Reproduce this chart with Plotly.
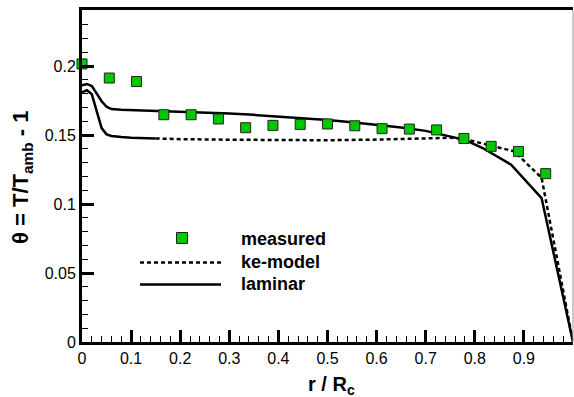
import plotly.graph_objects as go

# ---- data ----
meas_x = [0.0, 0.0556, 0.1111, 0.1667, 0.2222, 0.2778, 0.3333, 0.3889, 0.4444,
          0.5, 0.5556, 0.6111, 0.6667, 0.7222, 0.7778, 0.8333, 0.8889, 0.9444]
meas_y = [0.2015, 0.1913, 0.1888, 0.1647, 0.1647, 0.1616, 0.1553, 0.1570, 0.1577,
          0.1580, 0.1567, 0.1546, 0.1543, 0.1537, 0.1475, 0.1418, 0.1381, 0.1220]

ke_x = [0.0, 0.01, 0.02, 0.03, 0.04, 0.05, 0.06, 0.08, 0.10, 0.15, 0.20, 0.30,
        0.40, 0.50, 0.60, 0.65, 0.70, 0.75, 0.78, 0.83, 0.88, 0.936, 1.0]
ke_y = [0.1810, 0.1825, 0.1795, 0.1665, 0.1550, 0.1505, 0.1493, 0.1485, 0.1480,
        0.1475, 0.1470, 0.1466, 0.1462, 0.1462, 0.1467, 0.1472, 0.1480, 0.1480,
        0.1470, 0.1428, 0.1382, 0.1190, 0.0]

lam_x = [0.0, 0.01, 0.02, 0.03, 0.04, 0.05, 0.06, 0.08, 0.10, 0.15, 0.20, 0.25,
         0.30, 0.35, 0.40, 0.45, 0.50, 0.55, 0.60, 0.65, 0.70, 0.75, 0.78, 0.816,
         0.874, 0.936, 1.0]
lam_y = [0.1860, 0.1870, 0.1855, 0.1800, 0.1745, 0.1705, 0.1688, 0.1683, 0.1681,
         0.1676, 0.1670, 0.1664, 0.1656, 0.1646, 0.1635, 0.1623, 0.1608, 0.1592,
         0.1575, 0.1555, 0.1530, 0.1490, 0.1465, 0.1406, 0.1285, 0.1043, 0.0]

legend_labels = ["measured", "ke-model", "laminar"]

FONT = "Liberation Sans, Arial, Helvetica, sans-serif"
GREEN = "#00c800"

fig = go.Figure()

# ke-model: the densely sampled near-axis part renders solid, rest dotted
split = 0.16
ke_a = [(x, y) for x, y in zip(ke_x, ke_y) if x <= split]
ke_b = [(x, y) for x, y in zip(ke_x, ke_y) if x >= ke_a[-1][0]]
fig.add_trace(go.Scatter(x=[p[0] for p in ke_a], y=[p[1] for p in ke_a], mode="lines",
                         line=dict(color="black", width=2.5), showlegend=False,
                         cliponaxis=False, hoverinfo="skip"))
fig.add_trace(go.Scatter(x=[p[0] for p in ke_b], y=[p[1] for p in ke_b], mode="lines",
                         line=dict(color="black", width=2.5, dash="4px,3px"),
                         name=legend_labels[1], showlegend=False, cliponaxis=False))
fig.add_trace(go.Scatter(x=lam_x, y=lam_y, mode="lines",
                         line=dict(color="black", width=2.5),
                         name=legend_labels[2], showlegend=False, cliponaxis=False))
fig.add_trace(go.Scatter(x=meas_x, y=meas_y, mode="markers",
                         marker=dict(symbol="square", size=10, color=GREEN,
                                     line=dict(color="#222222", width=1)),
                         name=legend_labels[0], showlegend=False, cliponaxis=False))

W, H = 574, 397
L, R, T, B = 82, 1, 10, 55
pw, ph = W - L - R, H - T - B


def px(xp):
    return (xp - L) / pw


def py(yp):
    return (H - B - yp) / ph


shapes = []
annotations = []
# right frame (thin gray)
shapes.append(dict(type="line", xref="paper", yref="paper", x0=1, x1=1, y0=0, y1=1,
                   line=dict(color="#999999", width=1)))

# custom legend
sq = 5.5
shapes.append(dict(type="rect", xref="paper", yref="paper",
                   x0=px(182 - sq), x1=px(182 + sq), y0=py(238 + sq), y1=py(238 - sq),
                   fillcolor=GREEN, line=dict(color="#222222", width=1)))
shapes.append(dict(type="line", xref="paper", yref="paper",
                   x0=px(140), x1=px(221), y0=py(262.5), y1=py(262.5),
                   line=dict(color="black", width=2.5, dash="4px,3px")))
shapes.append(dict(type="line", xref="paper", yref="paper",
                   x0=px(140), x1=px(221), y0=py(284.5), y1=py(284.5),
                   line=dict(color="black", width=2.5)))
for lab, yp in zip(legend_labels, [239, 261.5, 283.5]):
    annotations.append(dict(text="<b>%s</b>" % lab, xref="paper", yref="paper",
                            x=px(239), y=py(yp), xanchor="left", yanchor="middle",
                            showarrow=False, font=dict(family=FONT, size=18, color="black")))

# axis titles
annotations.append(dict(text="<b>θ = T/T<sub>amb</sub> - 1</b>", xref="paper", yref="paper",
                        x=px(22), y=py(178), xanchor="center", yanchor="middle",
                        textangle=-90, showarrow=False,
                        font=dict(family=FONT, size=22, color="black")))
annotations.append(dict(text="<b>r / R<sub>c</sub></b>", xref="paper", yref="paper",
                        x=px(331), y=py(385), xanchor="center", yanchor="middle",
                        showarrow=False, font=dict(family=FONT, size=20, color="black")))

fig.update_layout(
    width=W, height=H, margin=dict(l=L, r=R, t=T, b=B, autoexpand=False),
    template="none", paper_bgcolor="white", plot_bgcolor="white",
    font=dict(family=FONT, size=16, color="black"),
    shapes=shapes, annotations=annotations, showlegend=False,
    xaxis=dict(range=[0, 1], tick0=0, dtick=0.1, ticks="inside", ticklen=12, tickwidth=3,
               tickcolor="black", showline=True, linewidth=3, linecolor="black",
               mirror=True, showgrid=False, zeroline=False, automargin=False,
               tickfont=dict(family=FONT, size=16, color="black"),
               minor=dict(dtick=0.02, ticks="inside", ticklen=6, tickwidth=1,
                          tickcolor="black", showgrid=False)),
    yaxis=dict(range=[0, 0.2406], tick0=0, dtick=0.05, ticks="inside", ticklen=12, tickwidth=3,
               tickcolor="black", showline=True, linewidth=3, linecolor="black",
               showgrid=False, zeroline=False, automargin=False,
               tickfont=dict(family=FONT, size=16, color="black"),
               minor=dict(dtick=0.01, ticks="inside", ticklen=6, tickwidth=1,
                          tickcolor="black", showgrid=False)),
)

fig.write_html("out.html", config={"displayModeBar": False},
               post_script="document.body.style.margin='0';document.body.style.overflow='hidden';")
